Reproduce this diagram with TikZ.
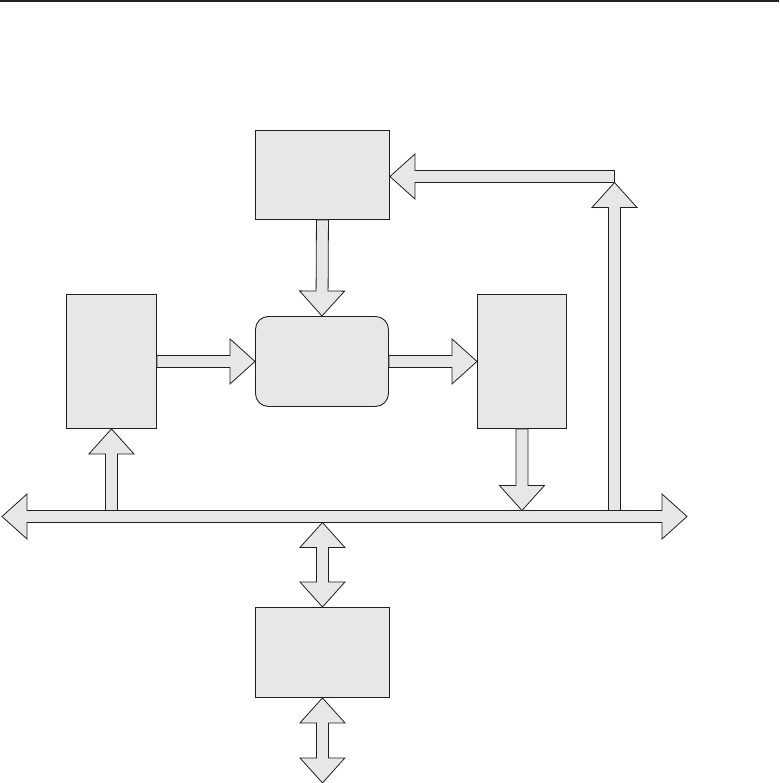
\documentclass[tikz,border=0pt]{standalone}
\usetikzlibrary{calc}
\definecolor{ink}{HTML}{231F20}
\definecolor{boxfill}{HTML}{E7E7E7}
\tikzset{
  fat/.style={fill=boxfill, draw=ink, line width=0.8pt, line join=miter},
  blockbox/.style={fill=boxfill, draw=ink, line width=0.9pt, inner sep=0pt, anchor=north west},
}
% single-headed fat arrow from coordinate #1 to coordinate #2
\newcommand{\fatarrow}[2]{%
  \coordinate (fa-h) at ($(#2)!25pt!(#1)$);
  \filldraw[fat] ($(#1)!6pt!90:(#2)$) -- ($(fa-h)!6pt!90:(#2)$) -- ($(fa-h)!22.5pt!90:(#2)$)
    -- (#2) -- ($(fa-h)!22.5pt!-90:(#2)$) -- ($(fa-h)!6pt!-90:(#2)$) -- ($(#1)!6pt!-90:(#2)$) -- cycle;
}
% double-headed fat arrow between coordinates #1 and #2
\newcommand{\fatdarrow}[2]{%
  \coordinate (fa-a) at ($(#1)!25pt!(#2)$);
  \coordinate (fa-b) at ($(#2)!25pt!(#1)$);
  \filldraw[fat] (#1) -- ($(fa-a)!22.5pt!90:(#2)$) -- ($(fa-a)!6pt!90:(#2)$)
    -- ($(fa-b)!6pt!90:(#2)$) -- ($(fa-b)!22.5pt!90:(#2)$) -- (#2)
    -- ($(fa-b)!22.5pt!-90:(#2)$) -- ($(fa-b)!6pt!-90:(#2)$)
    -- ($(fa-a)!6pt!-90:(#2)$) -- ($(fa-a)!22.5pt!-90:(#2)$) -- cycle;
}
\begin{document}
\begin{tikzpicture}[x=1pt,y=-1pt]
\useasboundingbox (0,0) rectangle (779,783);
\fill[ink] (0,0) rectangle (779,2.3);

% blocks
\node[blockbox, minimum width=134pt, minimum height=89pt] (top) at (255,130) {};
\node[blockbox, minimum width=133pt, minimum height=90pt, rounded corners=13pt] (proc) at (255,316) {};
\node[blockbox, minimum width=90pt, minimum height=134pt] (left) at (66,294) {};
\node[blockbox, minimum width=89pt, minimum height=134pt] (right) at (477,294) {};
\node[blockbox, minimum width=134pt, minimum height=90pt] (bottom) at (255,607) {};

% bus
\coordinate (busW) at (2,516.5);
\coordinate (busE) at (687,516.5);
\coordinate (busT) at (0,510.5);
\coordinate (busB) at (0,522.5);
\fatdarrow{busW}{busE}

% connectors
\fatarrow{top.south}{proc.north}
\fatarrow{left.east}{proc.west}
\fatarrow{proc.east}{right.west}

\coordinate (lbus) at (left.south |- busT);
\fatarrow{lbus}{left.south}

\coordinate (rbus) at (right.south |- busT);
\fatarrow{right.south}{rbus}

\coordinate (corner) at (614.5,176.5);
\coordinate (riserfoot) at (614.5,510.5);
\coordinate (risertop) at (614.5,182.5);
\fatarrow{riserfoot}{risertop}
\coordinate (topin) at (top.east |- corner);
\fatarrow{corner}{topin}

\coordinate (bbus) at (bottom.north |- busB);
\fatdarrow{bbus}{bottom.north}
\coordinate (bout) at ($(bottom.south)+(0,85)$);
\fatdarrow{bottom.south}{bout}
\end{tikzpicture}
\end{document}
